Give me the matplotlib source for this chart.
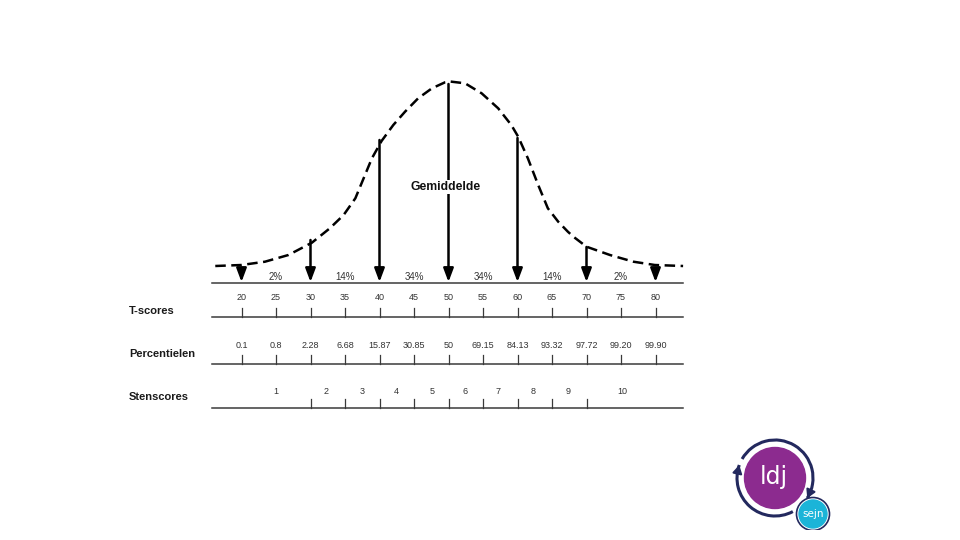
import numpy as np
import matplotlib.pyplot as plt
from matplotlib.patches import Circle, Arc

# T-score axis and the rows below it
t_scores = [20, 25, 30, 35, 40, 45, 50, 55, 60, 65, 70, 75, 80]
percentiles = ["0.1", "0.8", "2.28", "6.68", "15.87", "30.85", "50",
               "69.15", "84.13", "93.32", "97.72", "99.20", "99.90"]
sten_bounds = [30, 35, 40, 45, 50, 55, 60, 65, 70]
sten_labels = ["1", "2", "3", "4", "5", "6", "7", "8", "9", "10"]
sten_label_t = [25, 32.2, 37.5, 42.5, 47.6, 52.4, 57.2, 62.2, 67.4, 75.2]

# percentage of the population in each band
band_pct = ["2%", "14%", "34%", "34%", "14%", "2%"]
band_t = [25, 35, 45, 55, 65, 75]

# dashed bell curve (height above the tail, px)
curve_t = [16.2, 20.0, 23.4, 26.8, 30.2, 32.8, 34.8, 36.5, 37.7, 38.9, 40.3,
           42.0, 43.7, 45.6, 47.6, 49.5, 50.2, 52.4, 54.8, 57.2, 59.1, 60.1,
           61.5, 63.0, 64.4, 65.9, 67.3, 68.1, 70.0, 73.4, 76.8, 79.9, 84.0]
curve_h = [0, 1, 4.3, 11, 23.3, 37.7, 51, 67.7, 87.7, 107.7, 125,
           141, 154.3, 167.7, 177.7, 183.7, 184.5, 182.7, 172.7, 157.7, 141, 129.3,
           107.7, 81, 57.7, 44.3, 34.3, 29.3, 19.3, 11, 4.3, 1, 0]

# arrows dropping from the curve onto the axis
arrow_t = [20, 30, 40, 50, 60, 70, 80]
arrow_h = [-2, 26, 126, 182, 128, 19, -2]

# layout (pixel rows from top)
px_per_t = 6.9
t50_px = 448.5
y_tail = 266
y_arrow_line = 283
y_pct_text = 277
y_t_text = 298
y_t_line = 317
y_p_text = 346
y_p_line = 364
y_s_text = 391
y_s_line = 408
tick_len = 9
line_t0, line_t1 = 15.75, 84.0

plt.rcParams['font.family'] = ['Liberation Sans', 'DejaVu Sans']

fig = plt.figure(figsize=(9.6, 5.4), dpi=100)
ax = fig.add_axes([0, 0, 1, 1])
ax.set_xlim(50 - t50_px / px_per_t, 50 + (960 - t50_px) / px_per_t)
ax.set_ylim(540, 0)
ax.axis('off')

line_col = '#3a3a3a'
num_col = '#333333'

# curve
ax.plot(curve_t, [y_tail - h for h in curve_h], color='black', lw=1.8,
        dashes=(4.2, 2.2), solid_capstyle='butt', solid_joinstyle='round')

# arrows
for t, h in zip(arrow_t, arrow_h):
    ax.annotate('', xy=(t, y_arrow_line - 1), xytext=(t, y_tail - h),
                arrowprops=dict(arrowstyle='-|>,head_length=0.8,head_width=0.3',
                                color='black', lw=1.8, mutation_scale=10,
                                shrinkA=0, shrinkB=0))

# horizontal lines
for y in [y_arrow_line, y_t_line, y_p_line, y_s_line]:
    ax.plot([line_t0, line_t1], [y, y], color=line_col, lw=1.1)

# band percentages
for t, s in zip(band_t, band_pct):
    ax.text(t, y_pct_text, s, ha='center', va='center', fontsize=7, color=num_col)

# T-score row
for t in t_scores:
    ax.text(t, y_t_text, str(t), ha='center', va='center', fontsize=6.5, color=num_col)
    ax.plot([t, t], [y_t_line - tick_len, y_t_line], color=line_col, lw=0.9)

# percentile row
for t, p in zip(t_scores, percentiles):
    ax.text(t, y_p_text, p, ha='center', va='center', fontsize=6.5, color=num_col)
    ax.plot([t, t], [y_p_line - tick_len, y_p_line], color=line_col, lw=0.9)

# sten row
for t in sten_bounds:
    ax.plot([t, t], [y_s_line - tick_len, y_s_line], color=line_col, lw=0.9)
for t, s in zip(sten_label_t, sten_labels):
    ax.text(t, y_s_text, s, ha='center', va='center', fontsize=6.5, color=num_col)

# row titles
label_t = 50 + (129 - t50_px) / px_per_t
for y, s in [(311.5, "T-scores"), (354, "Percentielen"), (397, "Stenscores")]:
    ax.text(label_t, y, s, ha='left', va='center', fontsize=8, fontweight='bold',
            color='#1a1a1a')

ax.text(49.6, 187, "Gemiddelde", ha='center', va='center', fontsize=8.7,
        fontweight='bold', color='#111111',
        bbox=dict(facecolor='white', edgecolor='none', pad=1.0))

# logo
lg = fig.add_axes([725 / 960, (540 - 530) / 540, 110 / 960, 95 / 540])
lg.set_xlim(725, 835)
lg.set_ylim(530, 435)
lg.set_aspect('equal')
lg.axis('off')
navy = '#23295e'
cx, cy = 775, 478
lg.add_patch(Circle((cx, cy), 30.5, color='#8c2b8f'))
lg.text(cx - 1, cy - 1, "ldj", color='white', fontsize=17, ha='center',
        va='center', family='DejaVu Sans')
lg.add_patch(Arc((cx, cy), 76, 76, theta1=-150, theta2=32, color=navy, lw=2.2))
lg.add_patch(Arc((cx, cy), 76, 76, theta1=62, theta2=200, color=navy, lw=2.2))
for ang, d in [(-32, -1), (160, -1)]:
    a = np.deg2rad(ang)
    b = np.deg2rad(ang + 14 * -d)
    lg.annotate('', xy=(cx + 38 * np.cos(a), cy - 38 * np.sin(a)),
                xytext=(cx + 38 * np.cos(b), cy - 38 * np.sin(b)),
                arrowprops=dict(arrowstyle='-|>,head_length=0.6,head_width=0.35',
                                color=navy, lw=1.5, mutation_scale=8,
                                shrinkA=0, shrinkB=0))
sx, sy = 813, 514
lg.add_patch(Circle((sx, sy), 16.5, facecolor='white', edgecolor=navy, lw=1.2))
lg.add_patch(Circle((sx, sy), 14, color='#1bb4d8'))
lg.text(sx, sy, "sejn", color='white', fontsize=7.5, ha='center', va='center',
        family='DejaVu Sans')

fig.savefig('out.png', dpi=100)
